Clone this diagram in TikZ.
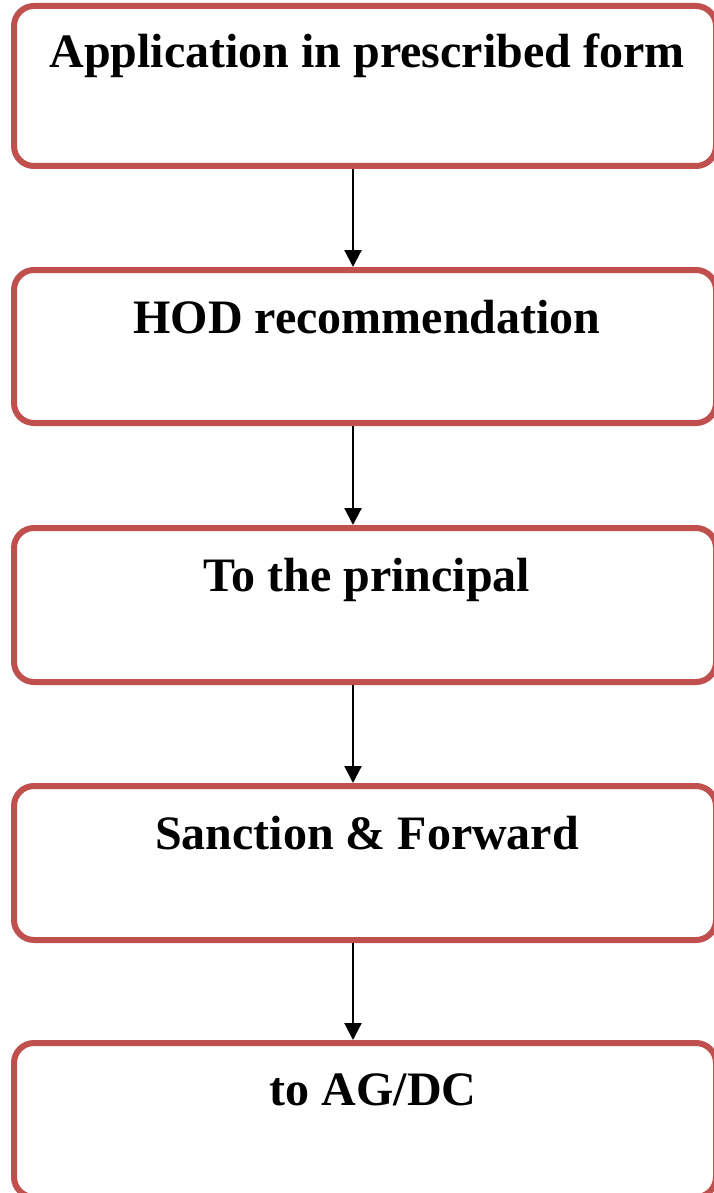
\documentclass[tikz,border=0pt]{standalone}
\usepackage{fontspec}
\setmainfont{Liberation Serif}
\usetikzlibrary{arrows.meta}
\definecolor{boxred}{HTML}{C0504D}
\begin{document}
\begin{tikzpicture}[x=1pt,y=-1pt,
  stagebox/.style={draw=boxred, line width=6pt, rounded corners=20pt,
    rectangle, minimum width=702pt, inner sep=0pt},
  stagetext/.style={anchor=base, font=\bfseries\fontsize{48}{56}\selectfont, inner sep=0pt},
  flowarrow/.style={draw=black, line width=2.2pt, -{Triangle[length=17pt,width=17pt]}}]
\useasboundingbox (0,0) rectangle (713,1193);
% the five stages of the process
\node[stagebox, minimum height=160pt] (b1) at (365,86) {};
\node[stagebox, minimum height=153pt] (b2) at (365,346.5) {};
\node[stagebox, minimum height=154pt] (b3) at (365,605) {};
\node[stagebox, minimum height=154pt] (b4) at (365,863) {};
\node[stagebox, minimum height=154pt] (b5) at (365,1120) {};
% stage labels
\node[stagetext] (t1) at (367,68) {Application in prescribed form};
\node[stagetext] (t2) at (367,333) {HOD recommendation};
\node[stagetext] (t3) at (367,591) {To the principal};
\node[stagetext] (t4) at (367,849) {Sanction \& Forward};
\node[stagetext] (t5) at (373,1105) {to AG/DC};
% connectors between consecutive stages
\draw[flowarrow] ([xshift=-12pt]b1.south) -- ([xshift=-12pt]b2.north);
\draw[flowarrow] ([xshift=-12pt]b2.south) -- ([xshift=-12pt]b3.north);
\draw[flowarrow] ([xshift=-12pt]b3.south) -- ([xshift=-12pt]b4.north);
\draw[flowarrow] ([xshift=-12pt]b4.south) -- ([xshift=-12pt]b5.north);
\end{tikzpicture}
\end{document}
